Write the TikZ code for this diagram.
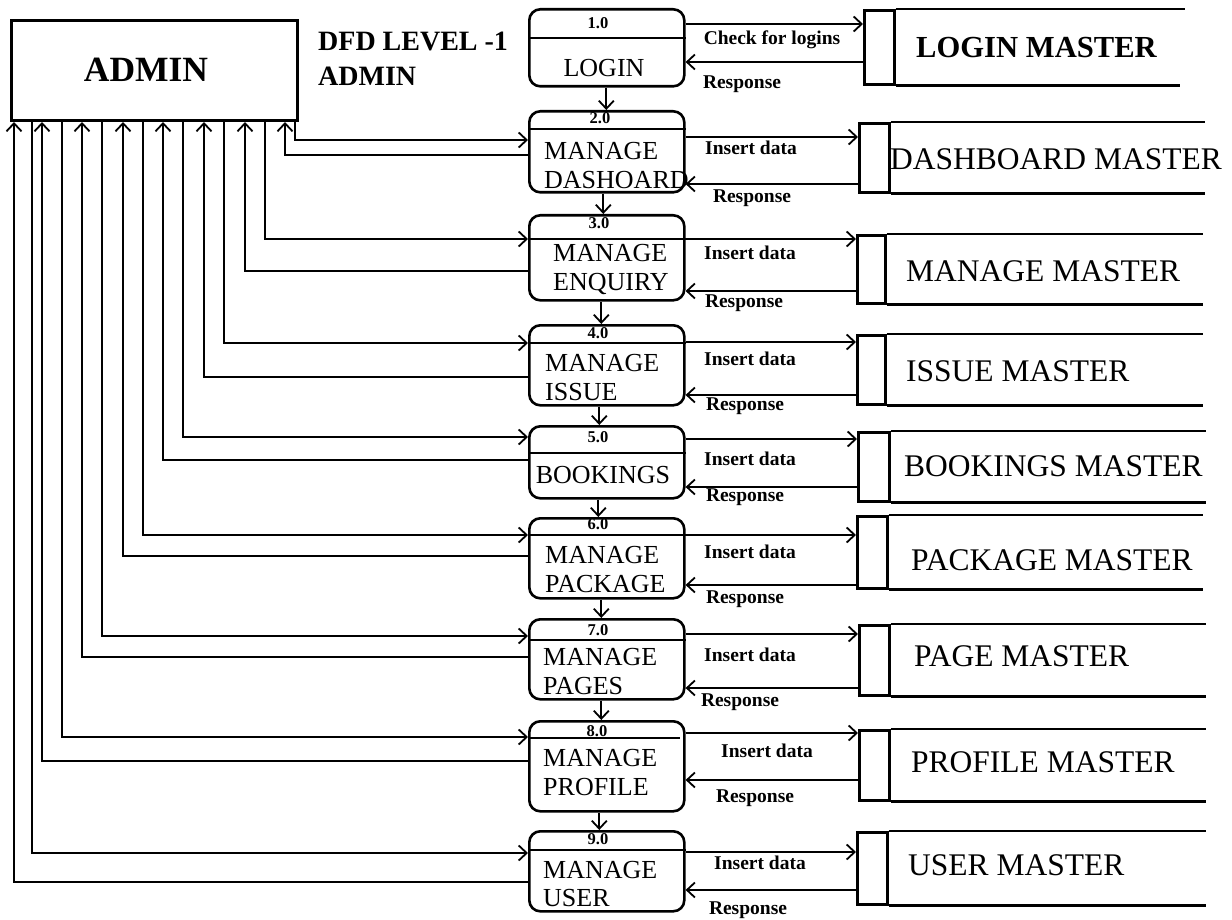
\documentclass[tikz,border=0pt]{standalone}
\usepackage{fontspec}
\setmainfont{Liberation Serif}
\usetikzlibrary{arrows.meta,calc}
\newcommand{\myfs}[1]{\fontsize{#1}{#1}\selectfont}
\begin{document}
\begin{tikzpicture}[x=1pt,y=-1pt,
  tip/.tip={Straight Barb[length=8pt,width=15pt,line width=1.8pt]},
  conn/.style={line width=1.8pt,-tip},
  proc/.style={draw,line width=2.6pt,rounded corners=11pt,anchor=north west,minimum width=155pt,inner sep=0pt},
  divl/.style={line width=2pt},
  sbox/.style={draw,line width=2.6pt,anchor=north west,inner sep=0pt},
  sline/.style={line width=2.6pt},
  num/.style={font=\bfseries\myfs{16.5},inner sep=0pt,text depth=0pt},
  ptxt/.style={font=\myfs{26},inner sep=0pt,anchor=west,text depth=0pt},
  lbl/.style={font=\bfseries\myfs{19.5},inner sep=0pt,text depth=0pt},
  stxt/.style={font=\myfs{31.5},inner sep=0pt,anchor=west,text depth=0pt}]
\useasboundingbox (0,0) rectangle (1232,920);

% external entity
\node[draw,line width=3pt,anchor=north west,minimum width=286pt,minimum height=100pt,inner sep=0pt] (admin) at (10,19) {};
\node[font=\bfseries\myfs{35.5},inner sep=0pt,text depth=0pt] (admintxt) at (146,70) {ADMIN};
\node[font=\bfseries\myfs{28},anchor=north west,inner sep=0pt,align=left,text depth=0pt] (title) at (318,32) {DFD LEVEL -1\\[7pt]ADMIN};

% processes
\node[proc,minimum height=77pt] (p1) at (528,8) {};
\node[proc,minimum height=81pt] (p2) at (528,110) {};
\node[proc,minimum height=85pt] (p3) at (528,214) {};
\node[proc,minimum height=80pt] (p4) at (528,324) {};
\node[proc,minimum height=72pt] (p5) at (528,425) {};
\node[proc,minimum height=80pt] (p6) at (528,517) {};
\node[proc,minimum height=80pt] (p7) at (528,618) {};
\node[proc,minimum height=90pt] (p8) at (528,720) {};
\node[proc,minimum height=80pt] (p9) at (528,830) {};

\draw[divl] ($(p1.north west)+(0,30)$) -- ($(p1.north east)+(0,30)$);
\draw[divl] ($(p2.north west)+(0,19)$) -- ($(p2.north east)+(0,19)$);
\draw[divl] ($(p3.north west)+(0,25)$) -- ($(p3.north east)+(0,25)$);
\draw[divl] ($(p4.north west)+(0,19)$) -- ($(p4.north east)+(0,19)$);
\draw[divl] ($(p5.north west)+(0,28)$) -- ($(p5.north east)+(0,28)$);
\draw[divl] ($(p6.north west)+(0,18)$) -- ($(p6.north east)+(0,18)$);
\draw[divl] ($(p7.north west)+(0,22)$) -- ($(p7.north east)+(0,22)$);
\draw[divl] ($(p8.north west)+(0,18)$) -- ($(p8.north east)+(-6,18)$);
\draw[divl] ($(p9.north west)+(0,20)$) -- ($(p9.north east)+(0,20)$);

\node[num] (n1) at (598,23) {1.0};
\node[num] (n2) at (600,118) {2.0};
\node[num] (n3) at (599,223) {3.0};
\node[num] (n4) at (598,333) {4.0};
\node[num] (n5) at (598,437) {5.0};
\node[num] (n6) at (598,524) {6.0};
\node[num] (n7) at (598,630) {7.0};
\node[num] (n8) at (597,731) {8.0};
\node[num] (n9) at (598,839) {9.0};

\node[font=\myfs{26},inner sep=0pt,text depth=0pt] (t1) at (604,68) {LOGIN};
\node[ptxt] (t2a) at (544,151) {MANAGE};
\node[ptxt] (t2b) at (544,180) {DASHOARD};
\node[ptxt] (t3a) at (553,253) {MANAGE};
\node[ptxt] (t3b) at (553,282) {ENQUIRY};
\node[ptxt] (t4a) at (545,363) {MANAGE};
\node[ptxt] (t4b) at (545,392) {ISSUE};
\node[font=\myfs{26},inner sep=0pt,text depth=0pt] (t5) at (603,475) {BOOKINGS};
\node[ptxt] (t6a) at (545,555) {MANAGE};
\node[ptxt] (t6b) at (545,584) {PACKAGE};
\node[ptxt] (t7a) at (543,657) {MANAGE};
\node[ptxt] (t7b) at (543,686) {PAGES};
\node[ptxt] (t8a) at (543,758) {MANAGE};
\node[ptxt] (t8b) at (543,787) {PROFILE};
\node[ptxt] (t9a) at (543,870) {MANAGE};
\node[ptxt] (t9b) at (543,898) {USER};

% flows between processes
\draw[conn] ($(p1.south)+(-0.5,0)$) -- ($(p2.north)+(-0.5,0)$);
\draw[conn] ($(p2.south)+(-3.5,0)$) -- ($(p3.north)+(-3.5,0)$);
\draw[conn] ($(p3.south)+(-5.5,0)$) -- ($(p4.north)+(-5.5,0)$);
\draw[conn] ($(p4.south)+(-7.5,0)$) -- ($(p5.north)+(-7.5,0)$);
\draw[conn] ($(p5.south)+(-8.5,0)$) -- ($(p6.north)+(-8.5,0)$);
\draw[conn] ($(p6.south)+(-5.5,0)$) -- ($(p7.north)+(-5.5,0)$);
\draw[conn] ($(p7.south)+(-5.5,0)$) -- ($(p8.north)+(-5.5,0)$);
\draw[conn] ($(p8.south)+(-7.5,0)$) -- ($(p9.north)+(-7.5,0)$);

% admin <-> processes
\draw[conn] ($(admin.south west)+(285,0)$) |- ($(p2.north west)+(0,30)$);
\draw[conn] ($(p2.north west)+(0,45)$) -| ($(admin.south west)+(275,0)$);
\draw[conn] ($(admin.south west)+(255,0)$) |- ($(p3.north west)+(0,25)$);
\draw[conn] ($(p3.north west)+(0,57)$) -| ($(admin.south west)+(235,0)$);
\draw[conn] ($(admin.south west)+(214,0)$) |- ($(p4.north west)+(0,19)$);
\draw[conn] ($(p4.north west)+(0,53)$) -| ($(admin.south west)+(194,0)$);
\draw[conn] ($(admin.south west)+(173,0)$) |- ($(p5.north west)+(0,12)$);
\draw[conn] ($(p5.north west)+(0,35)$) -| ($(admin.south west)+(153,0)$);
\draw[conn] ($(admin.south west)+(133,0)$) |- ($(p6.north west)+(0,18)$);
\draw[conn] ($(p6.north west)+(0,39)$) -| ($(admin.south west)+(113,0)$);
\draw[conn] ($(admin.south west)+(92,0)$) |- ($(p7.north west)+(0,18)$);
\draw[conn] ($(p7.north west)+(0,39)$) -| ($(admin.south west)+(72,0)$);
\draw[conn] ($(admin.south west)+(52,0)$) |- ($(p8.north west)+(0,17)$);
\draw[conn] ($(p8.north west)+(0,41)$) -| ($(admin.south west)+(32,0)$);
\draw[conn] ($(admin.south west)+(22,0)$) |- ($(p9.north west)+(0,23)$);
\draw[conn] ($(p9.north west)+(0,52)$) -| ($(admin.south west)+(4,0)$);

% data stores
\node[sbox,minimum width=30pt,minimum height=74pt] (s1) at (863,9) {};
\node[sbox,minimum width=30pt,minimum height=69pt] (s2) at (858,122) {};
\node[sbox,minimum width=28pt,minimum height=68pt] (s3) at (856,234) {};
\node[sbox,minimum width=28pt,minimum height=69pt] (s4) at (856,334) {};
\node[sbox,minimum width=31pt,minimum height=69pt] (s5) at (857,431) {};
\node[sbox,minimum width=30pt,minimum height=72pt] (s6) at (856,515) {};
\node[sbox,minimum width=30pt,minimum height=70pt] (s7) at (858,624) {};
\node[sbox,minimum width=30pt,minimum height=70pt] (s8) at (858,729) {};
\node[sbox,minimum width=30pt,minimum height=72pt] (s9) at (856,831) {};

\draw[sline] (s1.north east) -- ++(289,0);  \draw[sline] (s1.south east) -- ++(284,0);
\draw[sline] (s2.north east) -- ++(314,0);  \draw[sline] (s2.south east) -- ++(314,0);
\draw[sline] (s3.north east) -- ++(316,0);  \draw[sline] (s3.south east) -- ++(316,0);
\draw[sline] (s4.north east) -- ++(316,0);  \draw[sline] (s4.south east) -- ++(316,0);
\draw[sline] (s5.north east) -- ++(315,0);  \draw[sline] (s5.south east) -- ++(315,0);
\draw[sline] (s6.north east) -- ++(314,0);  \draw[sline] (s6.south east) -- ++(314,0);
\draw[sline] (s7.north east) -- ++(315,0);  \draw[sline] (s7.south east) -- ++(315,0);
\draw[sline] (s8.north east) -- ++(315,0);  \draw[sline] (s8.south east) -- ++(315,0);
\draw[sline] (s9.north east) -- ++(317,0);  \draw[sline] (s9.south east) -- ++(317,0);

\node[stxt,font=\bfseries\myfs{30.6}] (m1) at (916,47) {LOGIN MASTER};
\node[stxt] (m2) at (890,159) {DASHBOARD MASTER};
\node[stxt] (m3) at (906,271) {MANAGE MASTER};
\node[stxt] (m4) at (906,371) {ISSUE MASTER};
\node[stxt] (m5) at (904,466) {BOOKINGS MASTER};
\node[stxt] (m6) at (911,560) {PACKAGE MASTER};
\node[stxt] (m7) at (914,656) {PAGE MASTER};
\node[stxt] (m8) at (911,762) {PROFILE MASTER};
\node[stxt] (m9) at (908,865) {USER MASTER};

% processes <-> stores
\draw[conn] ($(p1.north east)+(0,16)$) -- ($(s1.north west)+(0,15)$);
\draw[conn] ($(s1.north west)+(0,53)$) -- ($(p1.north east)+(0,54)$);
\draw[conn] ($(p2.north east)+(0,27)$) -- ($(s2.north west)+(0,15)$);
\draw[conn] ($(s2.north west)+(0,62)$) -- ($(p2.north east)+(0,74)$);
\draw[conn] ($(p3.north east)+(0,25)$) -- ($(s3.north west)+(0,5)$);
\draw[conn] ($(s3.north west)+(0,57)$) -- ($(p3.north east)+(0,77)$);
\draw[conn] ($(p4.north east)+(0,18)$) -- ($(s4.north west)+(0,8)$);
\draw[conn] ($(s4.north west)+(0,61)$) -- ($(p4.north east)+(0,71)$);
\draw[conn] ($(p5.north east)+(0,14)$) -- ($(s5.north west)+(0,8)$);
\draw[conn] ($(s5.north west)+(0,56)$) -- ($(p5.north east)+(0,62)$);
\draw[conn] ($(p6.north east)+(0,18)$) -- ($(s6.north west)+(0,20)$);
\draw[conn] ($(s6.north west)+(0,70)$) -- ($(p6.north east)+(0,68)$);
\draw[conn] ($(p7.north east)+(0,16)$) -- ($(s7.north west)+(0,10)$);
\draw[conn] ($(s7.north west)+(0,64)$) -- ($(p7.north east)+(0,70)$);
\draw[conn] ($(p8.north east)+(0,13)$) -- ($(s8.north west)+(0,4)$);
\draw[conn] ($(s8.north west)+(0,51)$) -- ($(p8.north east)+(0,60)$);
\draw[conn] ($(p9.north east)+(0,22)$) -- ($(s9.north west)+(0,21)$);
\draw[conn] ($(s9.north west)+(0,59)$) -- ($(p9.north east)+(0,60)$);

% flow labels
\node[lbl] (l1a) at (772,38) {Check for logins};
\node[lbl] (l1b) at (742,82) {Response};
\node[lbl] (l2a) at (751,148) {Insert data};
\node[lbl] (l2b) at (752,196) {Response};
\node[lbl] (l3a) at (750,253) {Insert data};
\node[lbl] (l3b) at (744,301) {Response};
\node[lbl] (l4a) at (750,359) {Insert data};
\node[lbl] (l4b) at (745,404) {Response};
\node[lbl] (l5a) at (750,459) {Insert data};
\node[lbl] (l5b) at (745,495) {Response};
\node[lbl] (l6a) at (750,552) {Insert data};
\node[lbl] (l6b) at (745,597) {Response};
\node[lbl] (l7a) at (750,655) {Insert data};
\node[lbl] (l7b) at (740,700) {Response};
\node[lbl] (l8a) at (767,751) {Insert data};
\node[lbl] (l8b) at (755,796) {Response};
\node[lbl] (l9a) at (760,863) {Insert data};
\node[lbl] (l9b) at (748,908) {Response};
\end{tikzpicture}
\end{document}
